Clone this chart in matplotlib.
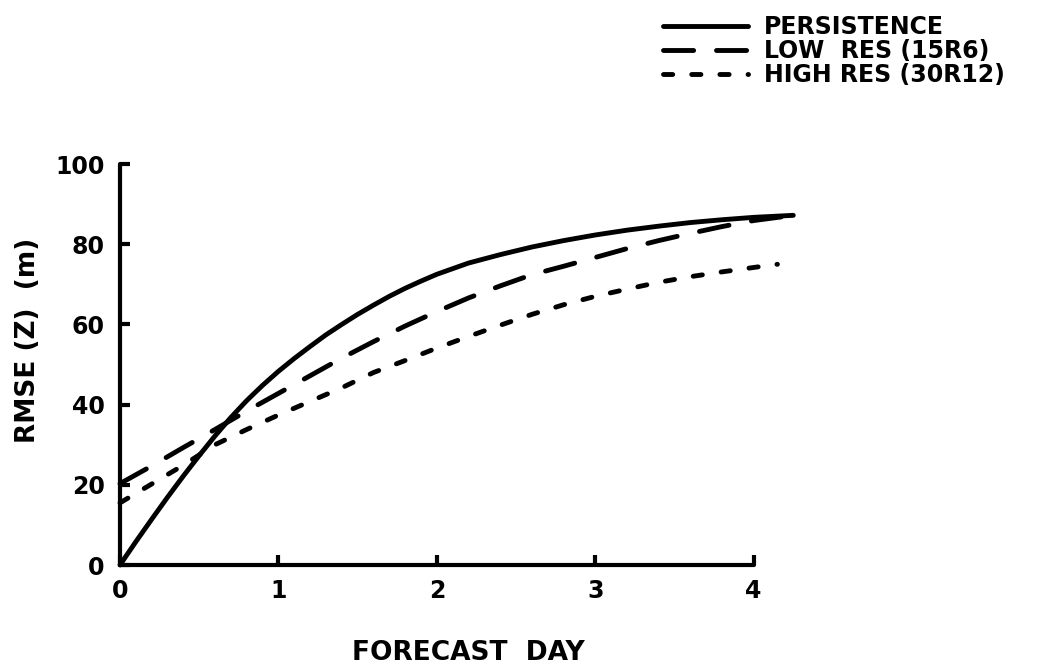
import matplotlib
matplotlib.use("Agg")
import matplotlib.pyplot as plt

# values
days_persist = [0, 0.1, 0.2, 0.3, 0.4, 0.5, 0.6, 0.7, 0.8, 0.9, 1.0, 1.1, 1.2, 1.3, 1.4, 1.5, 1.6, 1.7,
                1.8, 1.9, 2.0, 2.2, 2.4, 2.6, 2.8, 3.0, 3.2, 3.4, 3.6, 3.8, 4.0, 4.25]
persistence = [0, 5.8, 11.4, 16.9, 22.2, 27.3, 32.2, 36.8, 41.0, 44.8, 48.3, 51.5, 54.5, 57.4, 60.0, 62.5,
               64.8, 67.0, 69.0, 70.8, 72.5, 75.3, 77.4, 79.3, 80.9, 82.3, 83.5, 84.5, 85.4, 86.1, 86.7, 87.2]

days_low = [0, 0.2, 0.4, 0.6, 0.8, 1.0, 1.2, 1.4, 1.6, 1.8, 2.0, 2.2, 2.4, 2.6, 2.8, 3.0, 3.2, 3.4,
            3.6, 3.8, 4.0, 4.25]
low_res = [20.3, 24.7, 29.3, 33.8, 38.4, 42.8, 47.2, 51.6, 55.7, 59.6, 63.2, 66.6, 69.6, 72.4, 74.5,
           76.7, 78.9, 80.9, 82.7, 84.4, 85.9, 87.2]

days_high = [0, 0.2, 0.4, 0.6, 0.8, 1.0, 1.2, 1.4, 1.6, 1.8, 2.0, 2.2, 2.4, 2.6, 2.8, 3.0, 3.2, 3.4,
             3.6, 3.8, 4.0, 4.15]
high_res = [15.5, 20.2, 24.9, 30.0, 33.8, 37.4, 40.8, 44.2, 48.0, 51.0, 54.1, 57.0, 59.8, 62.5, 64.9,
            67.0, 68.8, 70.5, 71.9, 73.1, 74.2, 75.0]

labels = ["PERSISTENCE", "LOW  RES (15R6)", "HIGH RES (30R12)"]
x_ticks = [0, 1, 2, 3, 4]
y_ticks = [0, 20, 40, 60, 80, 100]

plt.rcParams['font.family'] = ['DejaVu Sans']
plt.rcParams['font.weight'] = 'bold'

fig = plt.figure(figsize=(10.46, 6.67), dpi=100)
ax = fig.add_axes([0.1147, 0.1529, 0.6664, 0.6012])

lw = 3.5
ax.plot(days_persist, persistence, color='black', lw=lw, solid_capstyle='round',
        solid_joinstyle='round', label=labels[0], clip_on=False)
ax.plot(days_low, low_res, color='black', lw=lw, dashes=(6.2, 4.7), dash_capstyle='round',
        label=labels[1], clip_on=False)
ax.plot(days_high, high_res, color='black', lw=lw, dashes=(1.9, 3.9), dash_capstyle='round',
        label=labels[2], clip_on=False)

ax.set_xlim(0, 4.4)
ax.set_ylim(0, 100)
for s in ['top', 'right']:
    ax.spines[s].set_visible(False)
ax.spines['bottom'].set_bounds(0, 4)
ax.spines['left'].set_bounds(0, 100)
for s in ['bottom', 'left']:
    ax.spines[s].set_linewidth(3)
    ax.spines[s].set_capstyle('round')

ax.set_xticks(x_ticks)
ax.set_yticks(y_ticks)
ax.tick_params(axis='both', direction='in', length=7, width=3, labelsize=17)
ax.tick_params(axis='x', pad=10)
ax.tick_params(axis='y', pad=11)

ax.set_xlabel("FORECAST  DAY", fontsize=19, fontweight='bold')
ax.xaxis.set_label_coords(0.5, -0.188)
ax.set_ylabel("RMSE (Z)  (m)", fontsize=19, fontweight='bold')
ax.yaxis.set_label_coords(-0.113, 0.56)

leg = ax.legend(loc='upper left', bbox_to_anchor=(0.634, 0.977), bbox_transform=fig.transFigure,
                frameon=False, fontsize=17, handlelength=3.6, handletextpad=0.65,
                labelspacing=0.0, borderpad=0, borderaxespad=0)
for t in leg.get_texts():
    t.set_fontweight('bold')

fig.savefig("out.png", dpi=100)
